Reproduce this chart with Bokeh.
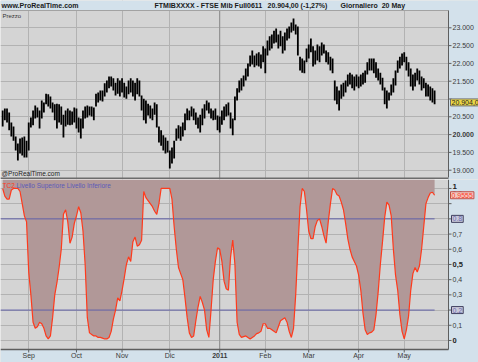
from bokeh.plotting import figure
from bokeh.layouts import column
from bokeh.models import Range1d, FixedTicker, Grid, BoxAnnotation, Span
from bokeh.core.properties import value
from bokeh.embed import file_html
from bokeh.resources import INLINE

# ---------------- data ----------------
highs = [20680, 20730, 20730, 20620, 20340, 20230, 19950, 19750, 19890, 19920,
         19950, 19830, 20340, 20480, 20680, 20820, 20760, 20680, 20960, 20900,
         21150, 21130, 21070, 20900, 20850, 20870, 20850, 20790, 20560, 20680,
         20730, 20680, 20650, 20760, 20730, 20480, 20450, 20680, 20790, 20820,
         20790, 20790, 20760, 21150, 21180, 21240, 21240, 21440, 21520, 21630,
         21630, 21580, 21460, 21580, 21520, 21580, 21460, 21350, 21520, 21580,
         21520, 21460, 21580, 21520, 21100, 21010, 20960, 20870, 20820, 20730,
         20900, 20850, 20230, 20120, 19980, 19920, 19830, 19550, 19640, 19830,
         20170, 20260, 20230, 20340, 20590, 20730, 20680, 20790, 20730, 20620,
         20480, 20560, 20730, 20850, 20960, 20900, 20730, 20680, 20730, 20540,
         20510, 20680, 20790, 20850, 20900, 20620, 20450, 21070, 21300, 21520,
         21580, 21660, 21860, 22000, 22220, 22360, 22220, 22280, 22310, 22250,
         22480, 22420, 22640, 22760, 22810, 22920, 22980, 22810, 22920, 22760,
         22870, 22980, 23040, 23150, 23260, 23090, 23040, 22190, 22140, 22080,
         22420, 22530, 22700, 22480, 22360, 22530, 22480, 22590, 22530, 22360,
         22310, 22190, 22140, 21520, 21350, 21240, 21410, 21460, 21520, 21690,
         21740, 21690, 21630, 21690, 21630, 21690, 21740, 21800, 22030, 22140,
         22140, 22140, 22030, 21860, 21740, 21600, 21320, 21240, 21180, 21410,
         21580, 21800, 22080, 22190, 22280, 22310, 22190, 22030, 21860, 21690,
         21740, 21860, 21800, 21630, 21580, 21460, 21410, 21350, 21300, 21240]
lows = [20230, 20400, 20340, 20120, 19950, 19830, 19550, 19270, 19470, 19410,
        19360, 19360, 19550, 20200, 20260, 20450, 20480, 20170, 20450, 20620,
        20850, 20790, 20730, 20620, 20400, 20170, 20340, 20280, 19920, 20230,
        20280, 20260, 20280, 20340, 20170, 20060, 19890, 20170, 20450, 20480,
        20540, 20510, 20400, 20790, 20900, 20960, 20930, 21070, 21180, 21300,
        21350, 21240, 21100, 21150, 21070, 21180, 21040, 21010, 21130, 21180,
        21070, 20960, 21130, 21070, 20680, 20400, 20310, 20540, 20450, 20400,
        20560, 20200, 19780, 19690, 19550, 19470, 19500, 19050, 19190, 19330,
        19830, 19890, 19830, 19950, 20120, 20400, 20400, 20510, 20400, 20280,
        20170, 20060, 20260, 20450, 20680, 20590, 20450, 20400, 20420, 20120,
        20060, 20280, 20400, 20510, 20540, 20170, 19980, 20400, 20960, 21180,
        21240, 21350, 21520, 21630, 21910, 21970, 21890, 21940, 21910, 21860,
        22030, 21720, 22220, 22360, 22420, 22560, 22590, 22420, 22480, 22280,
        22360, 22640, 22700, 22870, 22920, 22810, 22220, 21800, 21740, 21720,
        22030, 22140, 22310, 21910, 21970, 22080, 22030, 22220, 22280, 22030,
        21970, 21800, 21720, 20960, 20850, 20680, 21010, 21070, 21180, 21350,
        21410, 21300, 21240, 21350, 21300, 21350, 21410, 21460, 21690, 21800,
        21800, 21720, 21600, 21520, 21410, 21240, 20850, 20730, 20960, 21100,
        21180, 21380, 21740, 21860, 21940, 22030, 21800, 21630, 21350, 21240,
        21350, 21520, 21410, 21240, 21300, 21070, 21070, 20960, 20900, 20850]
osc = [1.0, 0.95, 0.93, 0.93, 0.99, 1.0, 1.0, 1.0, 0.98, 0.9,
       0.82, 0.78, 0.45, 0.3, 0.12, 0.08, 0.09, 0.12, 0.11, 0.08,
       0.03, 0.01, 0.03, 0.15, 0.3, 0.38, 0.48, 0.6, 0.83, 0.86,
       0.78, 0.64, 0.68, 0.77, 0.82, 0.88, 0.84, 0.72, 0.5, 0.15,
       0.05, 0.04, 0.03, 0.03, 0.02, 0.02, 0.015, 0.01, 0.01, 0.02,
       0.06, 0.14, 0.2, 0.28, 0.26, 0.33, 0.41, 0.5, 0.55, 0.52,
       0.65, 0.68, 0.62, 0.63, 0.66, 0.98, 0.94, 0.92, 0.9, 0.88,
       0.85, 0.83, 0.9, 1.0, 1.0, 1.0, 1.0, 1.0, 0.93, 0.75,
       0.6, 0.48, 0.44, 0.4, 0.28, 0.15, 0.05, 0.02, 0.03, 0.13,
       0.22, 0.29, 0.25, 0.2, 0.07, 0.02, 0.2, 0.4, 0.52, 0.61,
       0.6, 0.52, 0.39, 0.34, 0.33, 0.55, 0.66, 0.5, 0.12, 0.04,
       0.02, 0.025, 0.03, 0.02, 0.01, 0.02, 0.03, 0.045, 0.05, 0.06,
       0.11, 0.11, 0.08, 0.08, 0.07, 0.06, 0.05, 0.09, 0.13, 0.14,
       0.15, 0.12, 0.06, 0.02, 0.08, 0.3, 0.6, 0.88, 1.0, 0.98,
       0.86, 0.72, 0.67, 0.67, 0.75, 0.79, 0.8, 0.75, 0.69, 0.64,
       0.78, 0.9, 1.0, 0.99, 0.96, 0.95, 0.91, 0.86, 0.77, 0.67,
       0.6, 0.55, 0.52, 0.49, 0.43, 0.33, 0.18, 0.07, 0.04, 0.05,
       0.055, 0.07, 0.17, 0.32, 0.5, 0.65, 0.81, 0.91, 0.89, 0.82,
       0.6, 0.43, 0.33, 0.17, 0.06, 0.01, 0.07, 0.16, 0.33, 0.44,
       0.48, 0.45, 0.49, 0.6, 0.75, 0.9, 0.94, 0.97, 0.975, 0.9555]
bar_index = list(range(1, len(highs) + 1))

month_index = [13, 35, 56, 78, 101, 122, 142, 165, 186]
month_labels = ["Sep", "Oct", "Nov", "Dic", "2011", "Feb", "Mar", "Apr", "May"]
price_ticks = [19000, 19500, 20000, 20500, 21000, 21500, 22000, 22500, 23000]
price_labels = ["19.000", "19.500", "20.000", "20.500", "21.000", "21.500", "22.000", "22.500", "23.000"]
osc_ticks = [0.0, 0.1, 0.2, 0.3, 0.4, 0.5, 0.6, 0.7, 0.8, 0.9, 1.0]
osc_labels = ["0", "0,1", "0,2", "0,3", "0,4", "0,5", "0,6", "0,7", "0,8", "0,9", "1"]
upper_level = 0.8
lower_level = 0.2
last_close = 20904
last_close_label = "20.904,0"
last_osc = 0.9555
last_osc_label = "0.9555"
header_site = "www.ProRealTime.com"
header_parts = ["FTMIBXXXX - FTSE Mib Full0611", "20.904,00 (-1,27%)", "Giornaliero\u00a0\u00a020 May"]

# ---------------- style / geometry ----------------
PAGE_BG = "#d3e1eb"
PLOT_BG = "#d4d4d4"
GRID = "#b2b2b2"
AXIS = "#5e5e5e"
FONT = "Liberation Sans"
W = 478
PLOT_W = 448
XP = 206.4                       # right end of the plotting area (bar units)
UX = XP / PLOT_W                 # bar units per pixel
XR = UX * W

H1 = 179
YT1, YB1 = 23486, 18795
UY1 = (YT1 - YB1) / 167.0
H2 = 183
YT2, YB2 = 1.059, -0.0594
UY2 = (YT2 - YB2) / 170.0


def base_fig(h, y0, y1):
    p = figure(width=W, height=h, x_range=Range1d(0, XR), y_range=Range1d(y0, y1),
               output_backend="svg", toolbar_location=None,
               x_axis_location=None, y_axis_location=None,
               min_border=0, min_border_left=0, min_border_right=0,
               min_border_top=0, min_border_bottom=0,
               background_fill_color=PLOT_BG, border_fill_color=PAGE_BG,
               outline_line_color=None)
    p.grid.visible = False
    return p


def add_text(p, xs, ys, texts, size, color, style="normal", align="left",
             baseline="middle", xo=0, yo=0, **kw):
    p.text(x=xs, y=ys, text=texts, text_font=value(FONT), text_font_size=value(size),
           text_color=color, text_font_style=style, text_align=align,
           text_baseline=baseline, x_offset=xo, y_offset=yo, **kw)


# ================= price panel =================
p1 = base_fig(H1, YB1 - 2 * UY1, YT1 + 10 * UY1)
p1.add_layout(Grid(dimension=0, ticker=FixedTicker(ticks=month_index), grid_line_color=GRID))
p1.add_layout(Grid(dimension=1, ticker=FixedTicker(ticks=price_ticks), grid_line_color=GRID))
p1.add_layout(Span(location=month_index[4], dimension="height", line_color="#8c8c8c",
                   level="underlay"))
p1.add_layout(BoxAnnotation(bottom=YT1, fill_color=PAGE_BG, fill_alpha=1, line_color=None,
                            level="underlay"))
p1.add_layout(BoxAnnotation(top=YB1, fill_color="#6c6c6c", fill_alpha=1, line_color=None,
                            level="underlay"))
p1.add_layout(Span(location=YT1, dimension="width", line_color="#a2a2a2", level="underlay"))
p1.add_layout(BoxAnnotation(left=XP, fill_color=PAGE_BG, fill_alpha=1, line_color=None,
                            level="underlay"))

p1.segment(x0=[XP], x1=[XP], y0=[YB1], y1=[YT1], line_color=AXIS, line_width=1)
p1.segment(x0=[XP] * len(price_ticks), x1=[XP + 3 * UX] * len(price_ticks),
           y0=price_ticks, y1=price_ticks, line_color=AXIS, line_width=1)
shown = [(t, l) for t, l in zip(price_ticks, price_labels) if abs(t - last_close) > 200]
add_text(p1, [XP] * len(shown), [t for t, _ in shown], [l for _, l in shown], "7px",
         "#3a3a3a", style=["bold" if t == 20000 else "normal" for t, _ in shown], xo=4)

p1.segment(x0=bar_index, y0=lows, x1=bar_index, y1=highs, line_color="black", line_width=1.8)

add_text(p1, [XP], [last_close], [last_close_label], "7px", "#1e1e1e", xo=2,
         background_fill_color="#ecd848", border_line_color="#707070", border_line_width=1,
         padding=1)

add_text(p1, [0], [YT1], ["Prezzo"], "6px", "#333333", baseline="top", xo=2, yo=2)
add_text(p1, [0], [YB1], ["@ProRealTime.com"], "6.5px", "#222222", baseline="bottom", xo=1, yo=-1)
add_text(p1, [0], [YT1], [header_site], "7px", "#1a1a1a", style="bold", xo=1, yo=-5)
add_text(p1, [0, 0, 0], [YT1] * 3, header_parts, "7px", "#1a1a1a", style="bold",
         xo=[154, 267, 340], yo=-5)

# ================= oscillator panel =================
p2 = base_fig(H2, YB2 - 13 * UY2, YT2)
p2.add_layout(Grid(dimension=0, ticker=FixedTicker(ticks=month_index), grid_line_color=GRID))
p2.add_layout(Grid(dimension=1, ticker=FixedTicker(ticks=osc_ticks), grid_line_color=GRID))
p2.add_layout(Span(location=month_index[4], dimension="height", line_color="#8c8c8c",
                   level="underlay"))
p2.add_layout(BoxAnnotation(top=YB2, fill_color=PAGE_BG, fill_alpha=1, line_color=None,
                            level="underlay"))
p2.add_layout(BoxAnnotation(left=XP, fill_color=PAGE_BG, fill_alpha=1, line_color=None,
                            level="underlay"))

p2.varea(x=bar_index, y1=osc, y2=YT2, fill_color="#b19898", fill_alpha=1)
p2.segment(x0=[0, 0], x1=[bar_index[-1]] * 2, y0=[upper_level, lower_level],
           y1=[upper_level, lower_level], line_color="#6060a8", line_width=1)
p2.line(x=bar_index, y=osc, line_color="#ff3a1c", line_width=1.2)

p2.segment(x0=[XP], x1=[XP], y0=[YB2], y1=[YT2], line_color=AXIS, line_width=1)
p2.segment(x0=[0], x1=[XP], y0=[YB2], y1=[YB2], line_color=AXIS, line_width=1.5)
p2.segment(x0=[XP] * len(osc_ticks), x1=[XP + 3 * UX] * len(osc_ticks),
           y0=osc_ticks, y1=osc_ticks, line_color=AXIS, line_width=1)
p2.segment(x0=month_index, x1=month_index, y0=[YB2] * len(month_index),
           y1=[YB2 - 3 * UY2] * len(month_index), line_color=AXIS, line_width=1)

plain = [(t, l) for t, l in zip(osc_ticks, osc_labels) if t not in (0.0, 0.2, 0.5, 0.8, 0.9, 1.0)]
add_text(p2, [XP] * len(plain), [t for t, _ in plain], [l for _, l in plain], "7px", "#3a3a3a", xo=4)
add_text(p2, [XP, XP], [osc_ticks[0], osc_ticks[5]], [osc_labels[0], osc_labels[5]], "7.5px",
         "#1e1e1e", style="bold", xo=4)
add_text(p2, [XP], [osc_ticks[10]], [osc_labels[10]], "8px", "#1e1e1e", style="bold", xo=4, yo=-2)
add_text(p2, [XP], [osc_ticks[9]], [osc_labels[9]], "7px", "#3a3a3a", xo=4, yo=-10)

add_text(p2, [XP], [last_osc], [last_osc_label], "7px", "#ff3a1c", xo=2,
         background_fill_color="#f0c8c2", border_line_color="#c0504a", border_line_width=1,
         padding=1)
add_text(p2, [XP, XP], [upper_level, lower_level], [str(upper_level), str(lower_level)], "7px",
         "#6a6ab0", xo=3, background_fill_color="#c9c9d9", border_line_color="#404060",
         border_line_width=1, padding=1)

add_text(p2, month_index, [YB2] * len(month_index), month_labels, "7px", "#3a3a3a",
         style=["bold" if l == "2011" else "normal" for l in month_labels],
         align="center", yo=6)

add_text(p2, [0], [YT2], ["TC2"], "6.5px", "#ff3a1c", baseline="top", xo=2, yo=2)
add_text(p2, [0], [YT2], ["Livello Superiore Livello Inferiore"], "6.5px", "#5a5ab8",
         baseline="top", xo=16, yo=2)

layout = column(p1, p2, spacing=0)
open("out.html", "w").write(file_html(layout, INLINE))
